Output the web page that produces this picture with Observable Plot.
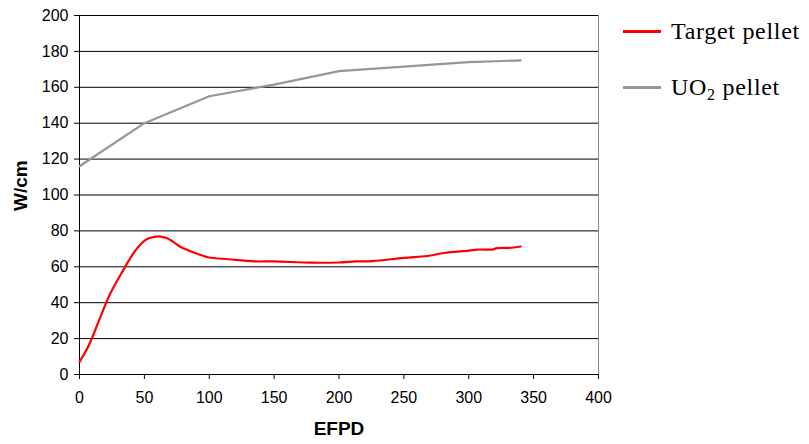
<!DOCTYPE html>
<html>
<head>
<meta charset="utf-8">
<script src="https://cdn.jsdelivr.net/npm/d3@7"></script>
<script src="https://cdn.jsdelivr.net/npm/@observablehq/plot@0.6"></script>
<style>
  html, body { margin: 0; padding: 0; background: #fff; }
  #wrap { position: relative; width: 809px; height: 444px; }
  .legend { position: absolute; left: 623px; font-family: "Liberation Serif", "Times New Roman", serif; font-size: 24px; letter-spacing: 0.7px; line-height: 24px; color: #000; white-space: nowrap; }
  .legend .sw { display: inline-block; width: 38px; height: 3px; vertical-align: middle; margin-right: 10px; position: relative; top: -2px; }
</style>
</head>
<body>
<div id="wrap"></div>
<script>
const efpdTarget = [0, 7, 15, 23, 32, 43, 50, 54, 61, 67, 72, 78, 88, 99, 115, 135, 150, 178, 200, 213, 226, 250, 268, 281, 300, 307, 318, 322, 333, 340];
const wcmTarget  = [7, 16, 30, 44, 56, 69, 74.5, 76, 77, 76, 74, 71, 68, 65.3, 64.2, 63, 63, 62.3, 62.4, 63, 63.2, 65, 66, 67.7, 69, 69.6, 69.6, 70.4, 70.6, 71.3];
const efpdUO2 = [0, 50, 100, 150, 200, 250, 300, 340];
const wcmUO2  = [116, 140, 155, 161.5, 169, 171.5, 174, 175];
const xTicks = [0, 50, 100, 150, 200, 250, 300, 350, 400];
const yTicks = [0, 20, 40, 60, 80, 100, 120, 140, 160, 180, 200];
const seriesNames = ["Target pellet", "UO\u2082 pellet"];
const seriesColors = ["#ff0000", "#969696"];

const target = efpdTarget.map((x, i) => ({x, y: wcmTarget[i]}));
const uo2 = efpdUO2.map((x, i) => ({x, y: wcmUO2[i]}));

const chart = Plot.plot({
  width: 809,
  height: 444,
  marginLeft: 79,
  marginRight: 211,
  marginTop: 15,
  marginBottom: 70,
  style: {fontFamily: "'Liberation Sans', Arial, sans-serif", fontSize: "16px", color: "#000", background: "#fff"},
  x: {domain: [0, 400], ticks: xTicks},
  y: {domain: [0, 200], ticks: yTicks},
  marks: [
    Plot.ruleY(yTicks.filter(d => d > 0), {stroke: "#000", strokeWidth: 1}),
    Plot.ruleX([400], {stroke: "#888", strokeWidth: 1}),
    Plot.ruleX([0], {stroke: "#000", strokeWidth: 1}),
    Plot.ruleY([0], {stroke: "#000", strokeWidth: 1}),
    Plot.axisY({ticks: yTicks, tickSize: 5, tickPadding: 6, stroke: "#000", fontSize: 16, label: null}),
    Plot.axisX({ticks: xTicks, tickSize: 5, tickPadding: 12, stroke: "#000", fontSize: 16, label: null}),
    Plot.line(uo2, {x: "x", y: "y", stroke: seriesColors[1], strokeWidth: 2.2}),
    Plot.line(target, {x: "x", y: "y", stroke: seriesColors[0], strokeWidth: 2.2, curve: "catmull-rom"}),
    Plot.text(["W/cm"], {frameAnchor: "left", dx: -59, dy: 16, rotate: -90, fontWeight: "bold", fontSize: 19, text: d => d}),
    Plot.text(["EFPD"], {frameAnchor: "bottom", dy: 60, fontWeight: "bold", fontSize: 19, text: d => d})
  ]
});
const wrap = document.getElementById("wrap");
wrap.appendChild(chart);

const legTops = [19, 75];
seriesNames.forEach((name, i) => {
  const div = document.createElement("div");
  div.className = "legend";
  div.style.top = legTops[i] + "px";
  const sw = document.createElement("span");
  sw.className = "sw";
  sw.style.background = seriesColors[i];
  div.appendChild(sw);
  const label = document.createElement("span");
  if (i === 1) {
    label.innerHTML = "UO<sub style='font-size:16px;vertical-align:-5px;line-height:0'>2</sub> pellet";
  } else {
    label.textContent = name;
  }
  div.appendChild(label);
  wrap.appendChild(div);
});
</script>
</body>
</html>
